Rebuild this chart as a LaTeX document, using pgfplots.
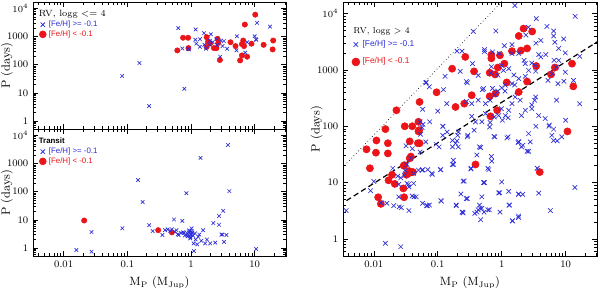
\documentclass[border=0pt]{standalone}
\usepackage{fontspec}
\usepackage{pgfplots}
\pgfplotsset{compat=1.18}
\newfontfamily\hel{Liberation Sans}
\definecolor{blu}{RGB}{45,45,215}
\definecolor{rd}{RGB}{235,20,25}
\pgfplotsset{
 myaxis/.style={scale only axis, xmin=0.0033, xmax=31,
   tick align=inside, major tick length=4pt, minor tick length=2pt,
   xtick={0.01,0.1,1,10}, xticklabels={0.01,0.1,1,10},
   ytick={1,10,100,1000,10000}, yticklabels={1,10,100,1000,$10^4$},
   minor xtick={0.004,0.005,0.006,0.007,0.008,0.009,0.02,0.03,0.04,0.05,0.06,0.07,0.08,0.09,0.2,0.3,0.4,0.5,0.6,0.7,0.8,0.9,2,3,4,5,6,7,8,9,20,30},
   minor ytick={0.6,0.7,0.8,0.9,2,3,4,5,6,7,8,9,20,30,40,50,60,70,80,90,200,300,400,500,600,700,800,900,2000,3000,4000,5000,6000,7000,8000,9000},
   tick label style={font=\fontsize{7.5}{8}\selectfont},
   label style={font=\fontsize{9}{10}\selectfont},
   every tick/.style={black, line width=0.4pt},
   axis line style={line width=0.6pt},
   legend cell align=left,
   legend style={draw=none, fill=none, inner sep=0pt, row sep=0pt, cells={anchor=west}},
 },
 mybx/.style={only marks, mark=x, color=blu, mark size=1.9pt, mark options={line width=0.5pt}},
 myrc/.style={only marks, mark=*, color=rd, mark size=2pt, mark options={draw=rd, fill=rd}},
}
\begin{document}
\begin{tikzpicture}
\useasboundingbox (0,0) rectangle (450pt,216pt);
% ---------------- top left
\begin{loglogaxis}[myaxis, at={(24.75pt,119.25pt)}, anchor=south west, width=189.75pt, height=95.25pt,
  ymin=0.52, ymax=17000, xticklabels={}, ylabel={P (days)},
  ylabel style={at={(axis description cs:-0.103,0.5)}, anchor=center},
  legend style={at={(0.024,0.875)}, anchor=north west, row sep=-2.5pt, font=\hel\fontsize{5.9}{6}\selectfont}]
\addlegendimage{only marks, mark=x, color=blu, mark size=2.3pt, mark options={line width=0.6pt}}
\addlegendentry{\textcolor{blu}{[Fe/H] >= -0.1}}
\addlegendimage{only marks, mark=*, color=rd, mark size=2.6pt}
\addlegendentry{\textcolor{rd}{[Fe/H] < -0.1}}
\addplot[myrc, forget plot] coordinates {(0.61,323) (0.75,910) (0.9,910) (0.91,390) (1.76,955) (1.85,660) (2.0,575) (1.76,430) (2.29,390) (2.51,390) (2.61,835) (2.67,590) (2.84,147) (4.17,630) (5.0,460) (5.9,143) (6.3,215) (6.3,540) (6.6,725) (6.8,460) (7.0,2680) (7.6,193) (8.9,560) (10.2,6030) (13.8,510) (19.1,350) (19.5,725)};
\addplot[mybx, forget plot] coordinates {(0.083,40) (0.155,115) (0.22,3.4) (0.785,14) (0.63,2000) (0.73,380) (1.18,1800) (1.17,770) (1.21,560) (1.38,810) (1.38,435) (1.6,1320) (1.62,510) (1.71,370) (1.98,710) (2.05,1210) (1.99,510) (2.18,630) (2.51,835) (2.95,725) (3.13,460) (3.28,690) (2.87,193) (3.7,370) (5.25,1030) (5.18,323) (7.1,270) (7.6,630) (10,1030) (10.6,770) (10.9,3080) (17.4,2270) (0.9,370) (2.57,500) (0.93,350) (10.5,800)};
\node[anchor=west, font=\fontsize{6.8}{7}\selectfont, inner sep=0pt] at (axis description cs:0.022,0.905) {RV, logg <= 4};
\end{loglogaxis}
% ---------------- bottom left
\begin{loglogaxis}[myaxis, at={(24.75pt,24pt)}, anchor=south west, width=189.75pt, height=95.25pt,
  ymin=0.52, ymax=17000, ylabel={P (days)}, xlabel={$\mathrm{M_P}$ ($\mathrm{M_{Jup}}$)},
  ylabel style={at={(axis description cs:-0.103,0.5)}, anchor=center},
  legend style={at={(0.024,0.875)}, anchor=north west, row sep=-2.5pt, font=\hel\fontsize{5.9}{6}\selectfont}]
\addlegendimage{only marks, mark=x, color=blu, mark size=2.3pt, mark options={line width=0.6pt}}
\addlegendentry{\textcolor{blu}{[Fe/H] >= -0.1}}
\addlegendimage{only marks, mark=*, color=rd, mark size=2.6pt}
\addlegendentry{\textcolor{rd}{[Fe/H] < -0.1}}
\addplot[myrc, forget plot] coordinates {(0.021,9.5) (0.305,4.3) (0.50,3.6)};
\addplot[mybx, forget plot] coordinates {(0.0158,0.85) (0.0274,3.7) (0.0274,0.74) (0.0835,5.0) (0.147,260) (0.174,43) (0.22,6.5) (0.25,4.0) (0.356,2.9) (0.39,4.3) (0.43,4.6) (0.54,10.3) (0.55,3.8) (0.59,4.3) (0.64,2.9) (0.73,9.2) (0.78,3.5) (0.845,89) (0.87,3.3) (0.9,3.0) (0.92,3.6) (0.95,2.7) (0.97,4.0) (1.0,3.2) (1.02,5.0) (0.98,2.4) (1.05,3.5) (1.11,0.78) (1.1,1.45) (1.18,2.0) (1.25,1.35) (1.35,3.0) (1.41,1600) (1.45,1.8) (1.55,4.3) (1.67,1.45) (1.78,2.0) (2.0,1.45) (2.24,7.7) (2.4,1.55) (2.75,13.7) (2.75,6.7) (3.0,3.0) (3.1,3.0) (3.2,21) (3.3,1.65) (3.6,2.9) (3.8,4600) (4.0,105) (10.5,0.92) (0.7,3.4) (0.75,3.6) (0.62,3.1) (0.8,2.8) (0.88,2.6) (0.93,4.2) (1.0,2.9) (1.03,3.9) (1.08,2.7) (1.15,3.3) (0.97,2.2) (1.3,2.5) (0.5,4.6) (0.47,4.1)};
\node[anchor=west, font=\hel\bfseries\fontsize{5.9}{6}\selectfont, inner sep=0pt] at (axis description cs:0.022,0.905) {Transit};
\end{loglogaxis}
% ---------------- right
\begin{loglogaxis}[myaxis, at={(257.25pt,24pt)}, anchor=south west, width=190.5pt, height=190.5pt,
  ymin=0.5, ymax=16000, ylabel={P (days)}, xlabel={$\mathrm{M_P}$ ($\mathrm{M_{Jup}}$)},
  ylabel style={at={(axis description cs:-0.104,0.5)}, anchor=center},
  legend style={at={(0.034,0.86)}, anchor=north west, row sep=3pt, font=\hel\fontsize{6.3}{7}\selectfont}]
\addlegendimage{only marks, mark=x, color=blu, mark size=2.4pt, mark options={line width=0.6pt}}
\addlegendentry{\textcolor{blu}{[Fe/H] >= -0.1}}
\addlegendimage{only marks, mark=*, color=rd, mark size=3pt}
\addlegendentry{\textcolor{rd}{[Fe/H] < -0.1}}
\addplot[black, dotted, line width=0.5pt, forget plot] coordinates {(0.001,4.6) (10,245000)};
\addplot[black, line width=0.9pt, dash pattern=on 4pt off 2.5pt, forget plot] coordinates {(0.001,1.86) (100,7250)};
\addplot[myrc, mark size=2.7pt, forget plot] coordinates {(2.2,5400) (3.0,4800) (1.85,4000) (2.5,2400) (1.45,2150) (2.0,2200) (0.69,1850) (0.69,1600) (0.94,1810) (1.1,1290) (0.27,1700) (0.168,1050) (0.37,940) (0.65,890) (0.79,830) (0.87,1100) (3.47,1170) (6.8,1100) (5.9,830) (12.6,1290) (13.2,510) (10.7,81) (1.2,600) (2.5,620) (1.85,405) (0.8,380) (0.65,340) (0.85,192) (0.67,150) (0.34,355) (0.26,252) (0.19,220) (0.096,400) (0.052,270) (0.0226,192) (0.0305,100) (0.04,100) (0.05,120) (0.0152,89) (0.011,56) (0.0166,50) (0.0077,39) (0.051,85) (0.0108,34) (0.0166,33) (0.0087,18) (0.0193,13.8) (0.017,11) (0.0213,9.5) (0.029,7.9) (0.0302,20.4) (0.0324,13.8) (0.0365,14.9) (0.0365,27) (0.038,29) (0.041,15.4) (0.0365,54) (0.049,50) (0.052,50) (0.0298,5.5) (0.0117,5.5) (0.0129,4.2) (0.39,21) (3.94,15.4) (0.0294,20) (0.036,16) (0.05,81)};
\addplot[mybx, mark size=2.4pt, forget plot] coordinates {(1.61,13900) (3.48,8100) (14.1,8900) (2.61,5700) (5.1,5900) (0.81,4900) (0.36,4800) (2.4,4150) (6.5,4900) (6.5,4000) (9.3,3530) (6.8,3080) (3.44,2970) (4.1,3330) (1.45,2800) (1.1,2680) (0.54,2290) (0.54,2100) (0.24,2150) (0.2,2150) (0.72,2080) (0.92,1950) (1.45,1950) (1.85,1960) (3.8,1870) (4.9,1870) (7.8,2400) (9.9,2000) (16.6,1740) (2.24,1480) (2.96,1320) (2.34,1290) (3.36,1200) (1.0,1200) (1.29,1050) (1.07,980) (0.69,1140) (0.68,880) (0.875,810) (0.43,800) (0.35,1290) (0.225,940) (0.13,770) (0.065,590) (0.123,445) (0.074,500) (0.29,590) (0.52,465) (0.72,470) (0.78,365) (1.0,480) (1.14,535) (1.45,570) (1.6,540) (1.85,700) (2.34,770) (2.64,980) (3.4,950) (5.3,650) (7.6,570) (9.4,630) (7.2,1120) (6.2,850) (16.6,250) (13.3,650) (3.28,290) (2.96,205) (3.8,155) (4.8,137) (2.04,155) (2.96,240) (1.95,290) (1.63,330) (1.45,252) (1.29,192) (1.14,155) (0.99,205) (0.9,155) (0.77,146) (0.66,117) (0.56,167) (0.49,120) (1.03,128) (1.26,142) (2.34,192) (3.4,330) (7.2,290) (5.56,105) (6.5,89) (8.7,65) (10,128) (6.5,56) (3.44,100) (2.64,74) (1.85,53) (2.14,46) (1.26,65) (0.78,65) (0.65,97) (0.45,43) (0.29,65) (0.21,79) (0.21,43) (0.17,56) (0.14,79) (0.12,69) (0.105,43) (0.059,108) (0.053,120) (0.39,120) (0.37,85) (0.34,150) (0.34,252) (0.43,290) (0.5,445) (0.56,252) (0.66,290) (0.87,420) (1.13,420) (1.55,810) (7.8,1480) (9.9,910) (6.6,1480) (4.1,1700) (0.066,600) (0.058,200) (0.1,186) (0.138,252) (0.28,275) (0.075,120) (0.12,100) (0.057,95) (0.28,620)
(0.0037,3.2) (0.0152,0.84) (0.0264,0.73) (0.0089,7.2) (0.01,10.5) (0.013,4.4) (0.016,4.3) (0.0205,3.9) (0.0246,5.6) (0.025,3.7) (0.0198,18) (0.0237,13) (0.03,13.5) (0.0332,9.7) (0.035,9.3) (0.0397,5.8) (0.0426,5.6) (0.0355,3.2) (0.042,9.7) (0.042,14.6) (0.058,17) (0.07,17) (0.081,14.6) (0.058,4.3) (0.067,3.9) (0.074,4.0) (0.112,4.8) (0.11,17) (0.17,21) (0.176,25) (0.194,4.0) (0.24,3.0) (0.26,10.7) (0.23,6.3) (0.29,5.2) (0.33,17.5) (0.41,31) (0.38,2.85) (0.41,3.0) (0.43,3.3) (0.45,4.0) (0.46,3.5) (0.47,2.2) (0.49,3.5) (0.53,3.0) (0.54,10) (0.64,3.3) (0.63,17) (0.69,29) (0.7,24) (0.47,42) (0.9,6.6) (0.94,3.0) (1.0,10.3) (1.29,7.0) (1.3,4.0) (1.47,2.1) (1.84,2.4) (1.84,6.3) (2.14,6.2) (1.8,51) (2.04,43) (2.64,36) (2.8,53) (3.6,18) (3.8,6.5) (5.8,3.2) (7.4,55) (14,8.2)
(0.0264,12.2) (0.033,21) (0.038,27) (0.053,35) (0.04,40) (0.032,45) (0.054,72) (0.065,53) (0.094,48) (0.12,100) (0.057,16.6) (0.082,14) (0.112,17) (0.178,21) (0.19,50) (0.2,55) (0.205,69) (0.17,43) (0.25,2.9) (0.195,3.9) (0.114,4.7) (0.069,3.9) (0.046,5.6) (0.027,3.6) (0.031,16.6) (0.05,16.6) (0.0246,9.3) (0.0355,8.4)
(0.295,69) (0.76,66) (1.21,62) (1.84,53) (2.5,36) (5.5,100) (6.1,69) (0.61,18) (0.33,18) (3.6,18) (0.25,10.6) (0.52,10) (0.28,5.2) (0.49,5.6) (0.93,6.6) (1.84,6.2) (0.245,3.0) (0.61,3.3) (1.33,4.0) (1.48,2.1) (1.84,2.55)};
\node[anchor=west, font=\fontsize{6.5}{7}\selectfont, inner sep=0pt] at (axis description cs:0.04,0.885) {RV, logg > 4};
\end{loglogaxis}
\end{tikzpicture}
\end{document}
